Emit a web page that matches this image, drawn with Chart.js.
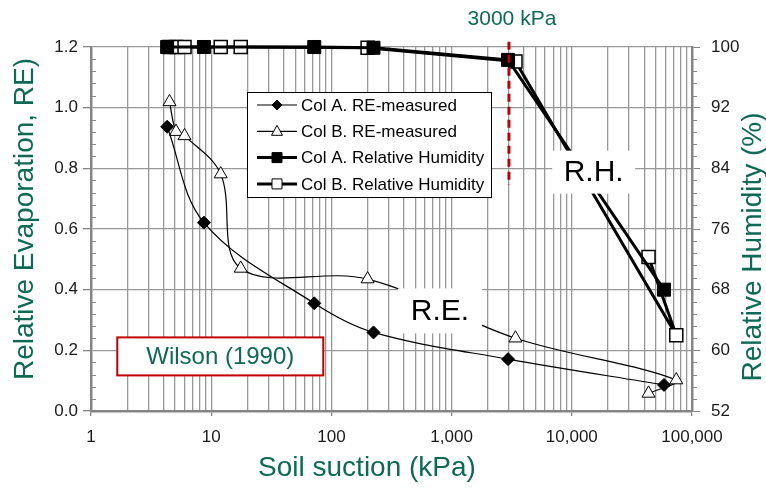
<!DOCTYPE html>
<html>
<head>
<meta charset="utf-8">
<script src="https://cdn.jsdelivr.net/npm/chart.js@4.4.1/dist/chart.umd.min.js"></script>
<style>
  body { margin: 0; background: #fff; }
</style>
</head>
<body>
<canvas id="chart" width="766" height="493"></canvas>
<script>
const colAX = [4.3, 8.7, 72, 224, 2950, 58500];
const colARE = [0.937, 0.621, 0.355, 0.259, 0.171, 0.086];
const colARH = [100, 100, 100, 99.9, 98.3, 68.0];

const colBX = [4.5, 5.1, 6.0, 12, 17.6, 200, 3400, 74000, 43500];
const colBRE = [1.019, 0.921, 0.907, 0.781, 0.470, 0.435, 0.240, 0.102, 0.058];
const colBRH = [100, 100, 100, 100, 100, 99.9, 98.1, 62.0, 72.3];

// Graduations
const xTickValues = [1, 10, 100, 1000, 10000, 100000];
const xTickLabels = ['1', '10', '100', '1,000', '10,000', '100,000'];
const reTickValues = [0, 0.2, 0.4, 0.6, 0.8, 1.0, 1.2];
const reTickLabels = ['0.0', '0.2', '0.4', '0.6', '0.8', '1.0', '1.2'];
const rhTickValues = [52, 60, 68, 76, 84, 92, 100];
const rhTickLabels = ['52', '60', '68', '76', '84', '92', '100'];

const seriesLabels = ['Col A. RE-measured', 'Col B. RE-measured', 'Col A. Relative Humidity', 'Col B. Relative Humidity'];

const GREEN = '#0e6a55';
const GRID = '#989898';
const AXIS = '#858585';
const FONT = '"Liberation Sans", Arial, sans-serif';

// Lignes de grille verticales : 1..9 par décade
const xGridValues = [];
for (let d = 0; d < 5; d++) {
  for (let k = 1; k <= 9; k++) xGridValues.push(k * Math.pow(10, d));
}
xGridValues.push(100000);

const toPoints = (xs, ys) => xs.map((x, i) => ({ x, y: ys[i] }));

// Dessin des décorations (légende, cadres, titres)
const decorations = {
  id: 'decorations',
  afterDatasetsDraw(chart) {
    const { ctx, chartArea, scales } = chart;
    const x = scales.x, y = scales.y, y1 = scales.y1;
    ctx.save();

    // petites graduations des axes verticaux
    ctx.strokeStyle = AXIS;
    ctx.lineWidth = 1;
    for (let i = 0; i <= 30; i++) {
      if (i % 5 === 0) continue;
      const py = Math.round(y.getPixelForValue(i * 0.04)) + 0.5;
      ctx.beginPath();
      ctx.moveTo(chartArea.left, py); ctx.lineTo(chartArea.left + 5, py);
      ctx.stroke();
      const py1 = Math.round(y1.getPixelForValue(52 + i * 1.6)) + 0.5;
      ctx.beginPath();
      ctx.moveTo(chartArea.right, py1); ctx.lineTo(chartArea.right + 5, py1);
      ctx.stroke();
    }

    // ligne pointillée à 3000 kPa
    const xs = x.getPixelForValue(3000);
    ctx.strokeStyle = '#c00000';
    ctx.lineWidth = 3;
    ctx.setLineDash([8, 5]);
    ctx.beginPath();
    ctx.moveTo(xs, y1.getPixelForValue(100.7));
    ctx.lineTo(xs, y1.getPixelForValue(81.8));
    ctx.stroke();
    ctx.setLineDash([]);

    ctx.textAlign = 'center';
    ctx.textBaseline = 'middle';

    // étiquettes R.E. et R.H. sur fond blanc
    const tag = (text, cx, cy, w, h) => {
      ctx.fillStyle = '#fff';
      ctx.fillRect(cx - w / 2, cy - h / 2, w, h);
      ctx.fillStyle = '#000';
      ctx.font = '30px ' + FONT;
      ctx.fillText(text, cx, cy + 1);
    };
    tag('R.E.', x.getPixelForValue(800), y.getPixelForValue(0.33), 84, 45);
    tag('R.H.', x.getPixelForValue(15200), y1.getPixelForValue(83.5), 83, 43);

    // cadre Wilson (1990)
    const wx = x.getPixelForValue(11.9), wy = y.getPixelForValue(0.18);
    ctx.fillStyle = '#fff';
    ctx.fillRect(wx - 103, wy - 19, 206, 38);
    ctx.strokeStyle = '#c00000';
    ctx.lineWidth = 2;
    ctx.strokeRect(wx - 103, wy - 19, 206, 38);
    ctx.fillStyle = GREEN;
    ctx.font = '24px ' + FONT;
    ctx.fillText('Wilson (1990)', wx, wy + 1);

    // texte 3000 kPa
    ctx.font = '21px ' + FONT;
    ctx.fillText('3000 kPa', xs + 3, 19);

    // légende
    const lx = 247, ly = 92, lw = 244, lh = 105;
    ctx.fillStyle = '#fff';
    ctx.fillRect(lx, ly, lw, lh);
    ctx.strokeStyle = '#000';
    ctx.lineWidth = 1;
    ctx.strokeRect(lx + 0.5, ly + 0.5, lw, lh);
    const styles = chart.data.datasets;
    seriesLabels.forEach((label, i) => {
      const ey = ly + 13 + i * 26.3;
      const ds = styles[i];
      ctx.strokeStyle = '#000';
      ctx.lineWidth = ds.borderWidth;
      ctx.beginPath();
      ctx.moveTo(lx + 10, ey); ctx.lineTo(lx + 50, ey);
      ctx.stroke();
      const mx = lx + 30;
      ctx.fillStyle = ds.pointBackgroundColor;
      ctx.lineWidth = 1;
      ctx.beginPath();
      if (ds.pointStyle === 'rectRot') {
        ctx.moveTo(mx - 5, ey); ctx.lineTo(mx, ey - 5); ctx.lineTo(mx + 5, ey); ctx.lineTo(mx, ey + 5);
        ctx.closePath();
      } else if (ds.pointStyle === 'triangle') {
        ctx.moveTo(mx, ey - 6); ctx.lineTo(mx + 5.5, ey + 4); ctx.lineTo(mx - 5.5, ey + 4);
        ctx.closePath();
      } else {
        ctx.rect(mx - 5, ey - 5, 10, 10);
      }
      ctx.fill();
      ctx.stroke();
      ctx.fillStyle = '#000';
      ctx.textAlign = 'left';
      ctx.font = '17px ' + FONT;
      ctx.fillText(label, lx + 54, ey + 1);
    });

    // titres des axes
    ctx.fillStyle = GREEN;
    ctx.font = '28px ' + FONT;
    ctx.textAlign = 'center';
    ctx.fillText('Soil suction (kPa)', 367, 468);
    ctx.save();
    ctx.translate(25, 219);
    ctx.rotate(-Math.PI / 2);
    ctx.fillText('Relative Evaporation, RE)', 0, 0);
    ctx.restore();
    ctx.save();
    ctx.translate(753, 247);
    ctx.rotate(-Math.PI / 2);
    ctx.fillText('Relative Humidity (%)', 0, 0);
    ctx.restore();

    ctx.restore();
  }
};

new Chart(document.getElementById('chart'), {
  type: 'scatter',
  data: {
    datasets: [
      {
        label: seriesLabels[0],
        data: toPoints(colAX, colARE),
        yAxisID: 'y',
        showLine: true,
        tension: 0.35,
        borderColor: '#000',
        borderWidth: 1.2,
        pointStyle: 'rectRot',
        pointRadius: 6.5,
        pointBackgroundColor: '#000',
        pointBorderColor: '#000',
        pointBorderWidth: 1,
        clip: false
      },
      {
        label: seriesLabels[1],
        data: toPoints(colBX, colBRE),
        yAxisID: 'y',
        showLine: true,
        tension: 0.35,
        borderColor: '#000',
        borderWidth: 1.2,
        pointStyle: 'triangle',
        pointRadius: 7.5,
        pointBackgroundColor: '#fff',
        pointBorderColor: '#000',
        pointBorderWidth: 1,
        clip: false
      },
      {
        label: seriesLabels[2],
        data: toPoints(colAX, colARH),
        yAxisID: 'y1',
        showLine: true,
        tension: 0,
        borderColor: '#000',
        borderWidth: 3,
        pointStyle: 'rect',
        pointRadius: 9.2,
        pointBackgroundColor: '#000',
        pointBorderColor: '#000',
        pointBorderWidth: 1,
        clip: false
      },
      {
        label: seriesLabels[3],
        data: toPoints(colBX, colBRH),
        yAxisID: 'y1',
        showLine: true,
        tension: 0,
        borderColor: '#000',
        borderWidth: 3,
        pointStyle: 'rect',
        pointRadius: 9.2,
        pointBackgroundColor: '#fff',
        pointBorderColor: '#000',
        pointBorderWidth: 1.5,
        clip: false
      }
    ]
  },
  options: {
    responsive: false,
    animation: false,
    layout: { padding: { top: 47, left: 0, right: 0, bottom: 0 } },
    plugins: {
      legend: { display: false },
      tooltip: { enabled: false }
    },
    scales: {
      x: {
        type: 'logarithmic',
        position: 'bottom',
        min: 1,
        max: 100000,
        afterBuildTicks: scale => {
          scale.ticks = xGridValues.map(v => ({ value: v, major: xTickValues.includes(v) }));
        },
        afterFit: scale => { scale.height = 82; },
        ticks: {
          autoSkip: false,
          maxRotation: 0,
          padding: 11,
          color: '#1a1a1a',
          font: { family: FONT, size: 17 },
          callback: value => {
            const i = xTickValues.indexOf(value);
            return i >= 0 ? xTickLabels[i] : '';
          }
        },
        grid: {
          color: GRID,
          lineWidth: 1.3,
          tickLength: 5,
          tickColor: ctx => (ctx.tick && xTickValues.includes(ctx.tick.value)) ? AXIS : 'rgba(0,0,0,0)'
        },
        border: { color: AXIS, width: 2.5 }
      },
      y: {
        type: 'linear',
        position: 'left',
        min: 0,
        max: 1.2,
        afterBuildTicks: scale => {
          scale.ticks = reTickValues.map(v => ({ value: v }));
        },
        afterFit: scale => { scale.width = 91; },
        ticks: {
          padding: 5,
          color: '#1a1a1a',
          font: { family: FONT, size: 17 },
          callback: (value, i) => reTickLabels[i]
        },
        grid: { color: GRID, lineWidth: 1.3, tickLength: 8, tickColor: AXIS },
        border: { color: AXIS, width: 2.5 }
      },
      y1: {
        type: 'linear',
        position: 'right',
        min: 52,
        max: 100,
        afterBuildTicks: scale => {
          scale.ticks = rhTickValues.map(v => ({ value: v }));
        },
        afterFit: scale => { scale.width = 74; },
        ticks: {
          padding: 11,
          color: '#1a1a1a',
          font: { family: FONT, size: 17 },
          callback: (value, i) => rhTickLabels[i]
        },
        grid: { drawOnChartArea: false, tickLength: 8, tickColor: AXIS },
        border: { color: AXIS, width: 2.5 }
      }
    }
  },
  plugins: [decorations]
});
</script>
</body>
</html>
